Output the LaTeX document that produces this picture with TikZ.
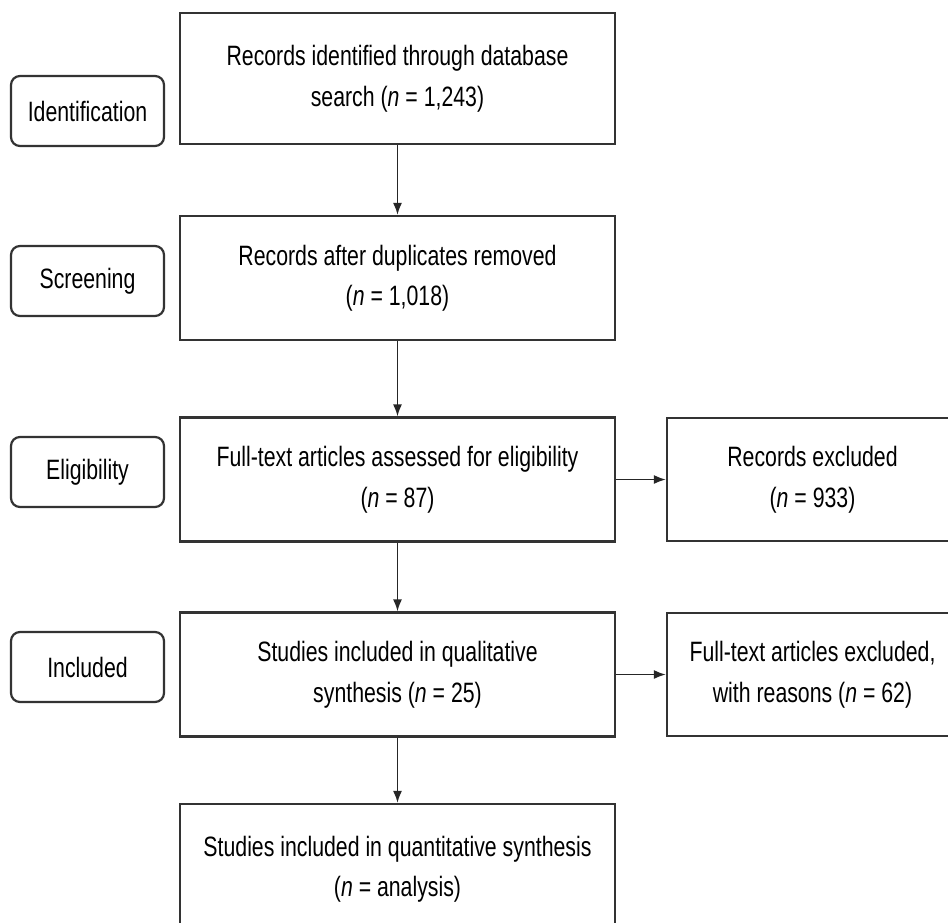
\documentclass[tikz,border=0pt]{standalone}
\usepackage{fontspec}
\setmainfont{Liberation Sans}[FakeStretch=0.76]
\usetikzlibrary{positioning,arrows.meta}

\tikzset{
	box/.style={draw=black!80, line width=2.2pt, align=center, inner sep=0pt, text=black},
	flowbox/.style={box, minimum width=435pt, minimum height=124pt},
	sidebox/.style={box, minimum width=291pt, minimum height=123pt},
	stagebox/.style={box, rounded corners=9pt, minimum width=153pt, minimum height=70pt},
	link/.style={->, line width=1.7pt, draw=black!85},
}

\begin{document}
\begin{tikzpicture}[x=1pt, y=-1pt, >={Latex[length=12pt,width=9pt]}, font=\fontsize{28}{40.5}\selectfont]
		\path[use as bounding box, clip] (0,0) rectangle (948,922);
%		\draw[step=50,gray!30] (0,0) grid (948,922);
		\node[stagebox] (ident) at (87.5,111) {Identification};
		\node[stagebox] (screen) at (87.5,281) {Screening};
		\node[stagebox] (elig) at (87.5,472) {Eligibility};
		\node[stagebox] (incl) at (87.5,667) {Included};

		\node[flowbox, minimum height=131pt] (recid) at (397.5,78.5) {Records identified through database\\search (\textit{n} = 1,243)};
		\node[flowbox] (recdup) at (397.5,278) {Records after duplicates removed\\(\textit{n} = 1,018)};
		\node[flowbox] (fulltext) at (397.5,479.5) {Full-text articles assessed for eligibility\\(\textit{n} = 87)};
		\node[flowbox] (qual) at (397.5,674.5) {Studies included in qualitative\\synthesis (\textit{n} = 25)};
		\node[flowbox, minimum height=130pt] (quant) at (397.5,869) {Studies included in quantitative synthesis\\(\textit{n} = analysis)};

		\node[sidebox] (recexc) at (812.5,479.5) {Records excluded\\(\textit{n} = 933)};
		\node[sidebox] (ftexc) at (812.5,674.5) {Full-text articles excluded,\\with reasons (\textit{n} = 62)};

		\draw[link] (recid) -- (recdup);
		\draw[link] (recdup) -- (fulltext);
		\draw[link] (fulltext) -- (qual);
		\draw[link] (qual) -- (quant);
		\draw[link] (fulltext) -- (recexc);
		\draw[link] (qual) -- (ftexc);
	\end{tikzpicture}
\end{document}
